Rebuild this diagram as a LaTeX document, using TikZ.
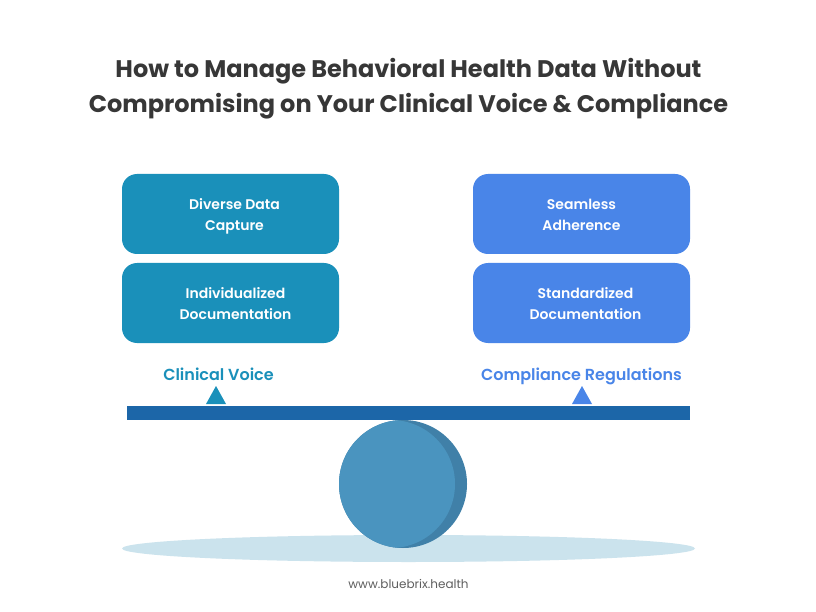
\documentclass[tikz,border=0pt]{standalone}
\usepackage{fontspec}
\setmainfont{Poppins}
\newfontfamily\semi{Poppins SemiBold}
\definecolor{teal}{HTML}{1A90BA}
\definecolor{sky}{HTML}{4985E8}
\definecolor{beam}{HTML}{1C66A8}
\definecolor{ballfront}{HTML}{4A94BF}
\definecolor{ballback}{HTML}{4080A8}
\definecolor{shadowc}{HTML}{CBE3ED}
\definecolor{ink}{HTML}{373737}
\tikzset{
  x=1pt,y=-1pt,
  card/.style={rounded corners=15pt,minimum width=217pt,minimum height=80pt,inner sep=0pt},
  tealcard/.style={card,fill=teal},
  skycard/.style={card,fill=sky},
  cardtext/.style={inner sep=0pt,text=white,align=center,font=\semi\fontsize{14}{21}\selectfont},
  scale label/.style={font=\semi\fontsize{16}{18}\selectfont,inner sep=0pt,anchor=base},
}
\begin{document}
\begin{tikzpicture}
\useasboundingbox (0,0) rectangle (816,612);
\fill[white] (0,0) rectangle (816,612);
\node[inner sep=0pt,align=center,text=ink,font=\bfseries\fontsize{24}{35}\selectfont] (title) at (408.5,89) {How to Manage Behavioral Health Data Without\\Compromising on Your Clinical Voice \& Compliance};
\node[tealcard] (a) at (230.5,214) {};
\node[tealcard] (b) at (230.5,303) {};
\node[skycard] (c) at (581.5,214) {};
\node[skycard] (d) at (581.5,303) {};
\node[cardtext] (at) at (234.5,216) {Diverse Data\\Capture};
\node[cardtext] (bt) at (235.5,304) {Individualized\\Documentation};
\node[cardtext] (ct) at (581.5,215) {Seamless\\Adherence};
\node[cardtext] (dt) at (585.5,304) {Standardized\\Documentation};
\node[scale label,text=teal] (l) at (218.5,380) {Clinical Voice};
\node[scale label,text=sky] (r) at (581.5,380) {Compliance Regulations};
\fill[teal] (206,404) -- (216,386) -- (226,404) -- cycle;
\fill[sky] (572,404) -- (582,386) -- (592,404) -- cycle;
\fill[shadowc] (408.5,548.5) ellipse [x radius=286.5,y radius=13.5];
\fill[beam] (127,406) rectangle (690,420);
\fill[ballback] (403,484) circle [radius=64];
\begin{scope}
\clip (403,484) circle [radius=64];
\fill[ballfront] (391,484) circle [radius=64];
\end{scope}
\node[inner sep=0pt,text=ink!80,font=\fontsize{12}{14}\selectfont] (w) at (408.5,584) {www.bluebrix.health};
\end{tikzpicture}
\end{document}
